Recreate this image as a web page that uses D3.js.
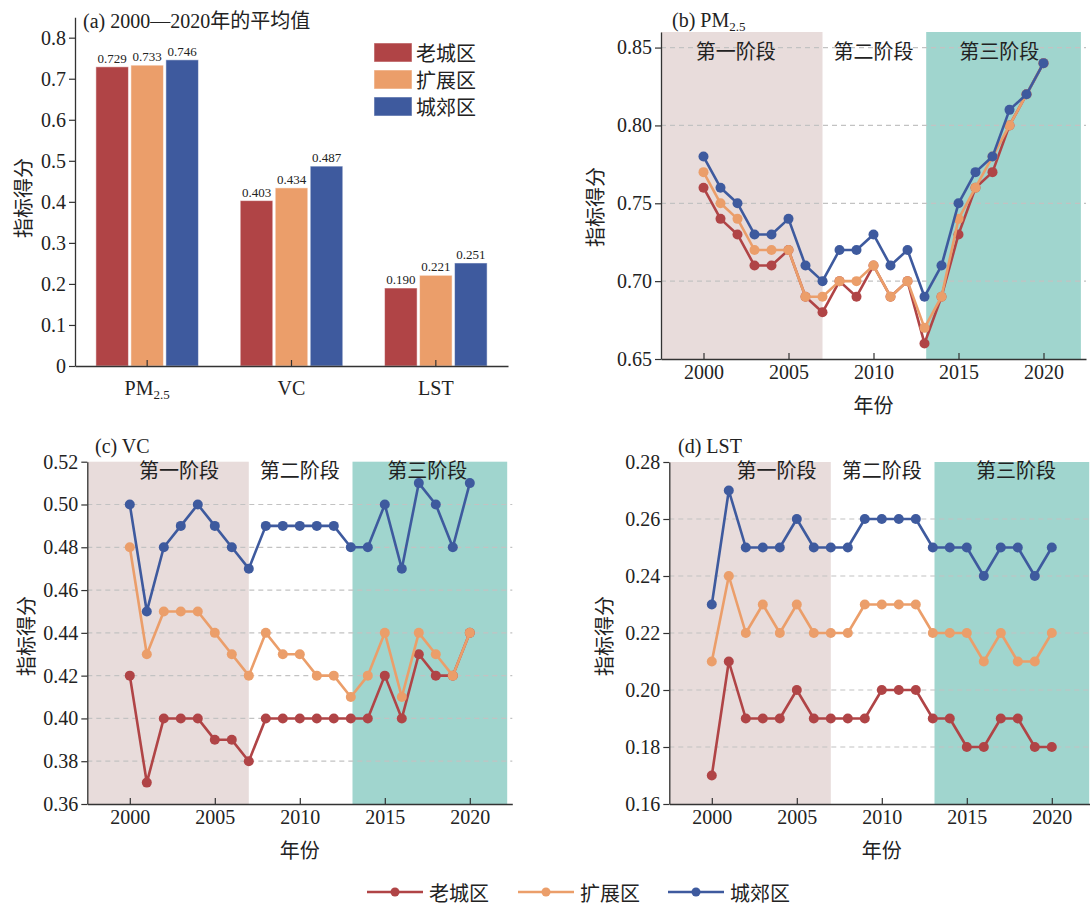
<!DOCTYPE html>
<html><head><meta charset="utf-8">
<script src="https://cdn.jsdelivr.net/npm/d3@7"></script>
<style>
body{margin:0;background:#fff;}
svg{display:block;font-family:"Liberation Serif","Noto Sans CJK SC",serif;}
text{fill:#222;}
</style></head>
<body><svg id="chart" width="1090" height="905"></svg>
<script>
// ---------- data ----------
const seriesNames = ["老城区", "扩展区", "城郊区"];
const seriesColors = ["#B04446", "#EB9E6A", "#3E5A9E"];
const barCategories = ["PM2.5", "VC", "LST"];
const barOld = [0.729, 0.403, 0.190];
const barExt = [0.733, 0.434, 0.221];
const barSub = [0.746, 0.487, 0.251];
const years = [2000,2001,2002,2003,2004,2005,2006,2007,2008,2009,2010,2011,2012,2013,2014,2015,2016,2017,2018,2019,2020];
const pmOld = [0.76,0.74,0.73,0.71,0.71,0.72,0.69,0.68,0.70,0.69,0.71,0.69,0.70,0.66,0.69,0.73,0.76,0.77,0.80,0.82,0.84];
const pmExt = [0.77,0.75,0.74,0.72,0.72,0.72,0.69,0.69,0.70,0.70,0.71,0.69,0.70,0.67,0.69,0.74,0.76,0.78,0.80,0.82,0.84];
const pmSub = [0.78,0.76,0.75,0.73,0.73,0.74,0.71,0.70,0.72,0.72,0.73,0.71,0.72,0.69,0.71,0.75,0.77,0.78,0.81,0.82,0.84];
const vcOld = [0.42,0.37,0.40,0.40,0.40,0.39,0.39,0.38,0.40,0.40,0.40,0.40,0.40,0.40,0.40,0.42,0.40,0.43,0.42,0.42,0.44];
const vcExt = [0.48,0.43,0.45,0.45,0.45,0.44,0.43,0.42,0.44,0.43,0.43,0.42,0.42,0.41,0.42,0.44,0.41,0.44,0.43,0.42,0.44];
const vcSub = [0.50,0.45,0.48,0.49,0.50,0.49,0.48,0.47,0.49,0.49,0.49,0.49,0.49,0.48,0.48,0.50,0.47,0.51,0.50,0.48,0.51];
const lstOld = [0.17,0.21,0.19,0.19,0.19,0.20,0.19,0.19,0.19,0.19,0.20,0.20,0.20,0.19,0.19,0.18,0.18,0.19,0.19,0.18,0.18];
const lstExt = [0.21,0.24,0.22,0.23,0.22,0.23,0.22,0.22,0.22,0.23,0.23,0.23,0.23,0.22,0.22,0.22,0.21,0.22,0.21,0.21,0.22];
const lstSub = [0.23,0.27,0.25,0.25,0.25,0.26,0.25,0.25,0.25,0.26,0.26,0.26,0.26,0.25,0.25,0.25,0.24,0.25,0.25,0.24,0.25];
const stageNames = ["第一阶段", "第二阶段", "第三阶段"];
const yearTicks = [2000, 2005, 2010, 2015, 2020];
const barTicks = [0,0.1,0.2,0.3,0.4,0.5,0.6,0.7,0.8];
const pmTicks = [0.65,0.70,0.75,0.80,0.85];
const vcTicks = [0.36,0.38,0.40,0.42,0.44,0.46,0.48,0.50,0.52];
const lstTicks = [0.16,0.18,0.20,0.22,0.24,0.26,0.28];

const svg = d3.select("#chart");
const FS = 20;
const SERIF = '"Liberation Serif", "Noto Sans CJK SC", serif';
const CJK = '"Noto Sans CJK SC", sans-serif';

function styleAxis(g){
  g.attr("font-family", null).style("font-family", SERIF);
  g.selectAll("path.domain").attr("stroke","#333").attr("stroke-width",1.3);
  g.selectAll(".tick line").attr("stroke","#333").attr("stroke-width",1.2);
  g.selectAll(".tick text").attr("font-size",FS).style("fill","#222")
   .style("font-family", SERIF);
}
function yLabel(x, y){
  svg.append("text").attr("transform",`translate(${x},${y}) rotate(-90)`)
    .attr("text-anchor","middle").attr("dominant-baseline","central")
    .attr("font-size",FS).style("font-family",CJK).text("指标得分");
}
function titleWithSub(x, y, pre, sub){
  const t = svg.append("text").attr("x",x).attr("y",y).attr("font-size",FS).style("font-family",SERIF);
  t.append("tspan").text(pre);
  if(sub){ t.append("tspan").attr("font-size",13).attr("dy",4).text(sub); }
  return t;
}

// ---------- panel (a) bars ----------
(function(){
  const left=75, right=508, bottom=366;
  const y = d3.scaleLinear().domain([0,0.85]).range([bottom, bottom-0.85*410.4]);
  const x0 = d3.scaleBand().domain(barCategories).range([left,right]).padding(0);
  const x1 = d3.scaleBand().domain(seriesNames).range([-52.5,52.5]).paddingInner(0.07).paddingOuter(0.035);
  const vals = [barOld, barExt, barSub];
  const g = svg.append("g");
  barCategories.forEach((c,ci)=>{
    seriesNames.forEach((s,si)=>{
      const v = vals[si][ci];
      const bx = x0(c)+x0.bandwidth()/2 + x1(s);
      g.append("rect").attr("x",bx).attr("y",y(v)).attr("width",x1.bandwidth())
        .attr("height",y(0)-y(v)).attr("fill",seriesColors[si])
        .attr("stroke","#fff").attr("stroke-opacity",0.5).attr("stroke-width",1);
      g.append("text").attr("x",bx+x1.bandwidth()/2).attr("y",y(v)-4)
        .attr("text-anchor","middle").attr("font-size",13).style("font-family",SERIF)
        .text(d3.format(".3f")(v));
    });
  });
  const ya = svg.append("g").attr("transform",`translate(${left},0)`)
    .call(d3.axisLeft(y).tickValues(barTicks).tickSize(6).tickSizeOuter(0).tickPadding(3)
      .tickFormat(d=> d===0?"0":d3.format(".1f")(d)));
  styleAxis(ya);
  const xa = svg.append("g").attr("transform",`translate(0,${bottom})`)
    .call(d3.axisBottom(x0).tickSizeInner(-6).tickSizeOuter(0).tickPadding(12).tickFormat(()=>""));
  styleAxis(xa);
  xa.selectAll(".tick").each(function(d){
    const t = d3.select(this).select("text").attr("dy",null).attr("y",29);
    if(d==="PM2.5"){ t.append("tspan").text("PM"); t.append("tspan").attr("font-size",13).attr("dy",4).text("2.5"); }
    else t.text(d);
  });
  // legend
  seriesNames.forEach((s,i)=>{
    const ly = 43 + i*27;
    svg.append("rect").attr("x",374).attr("y",ly).attr("width",38).attr("height",19)
      .attr("fill",seriesColors[i]).attr("stroke","#fff").attr("stroke-opacity",0.5);
    svg.append("text").attr("x",416).attr("y",ly+9.5).attr("dominant-baseline","central")
      .attr("font-size",20).style("font-family",CJK).text(s);
  });
  const t = svg.append("text").attr("x",83).attr("y",28).attr("font-size",FS).style("font-family",SERIF);
  t.append("tspan").text("(a) 2000—2020");
  t.append("tspan").style("font-family",CJK).text("年的平均值");
  yLabel(22, 198);
})();

// ---------- line panels ----------
function linePanel(cfg){
  const x = d3.scaleLinear().domain([1997.5,2022.5]).range([cfg.left, cfg.left+425]);
  const y = d3.scaleLinear().domain(cfg.yDomain).range([cfg.bottom, cfg.top]);
  const g = svg.append("g");
  g.append("rect").attr("x",x(1997.5)).attr("y",cfg.top).attr("width",x(2007)-x(1997.5))
    .attr("height",cfg.bottom-cfg.top).attr("fill","#E8DCDB");
  g.append("rect").attr("x",x(2013.1)).attr("y",cfg.top).attr("width",x(2022.2)-x(2013.1))
    .attr("height",cfg.bottom-cfg.top).attr("fill","#A0D5CE");
  cfg.ticks.slice(1).forEach(t=>{
    if(Math.abs(y(t)-cfg.top)<1) return;
    g.append("line").attr("x1",x(1997.5)).attr("x2",x(2022.5)).attr("y1",y(t)).attr("y2",y(t))
      .attr("stroke","#c2c2c2").attr("stroke-width",1.2).attr("stroke-dasharray","5,4");
  });
  const stageX = [cfg.stage1X, 2010, cfg.stage3X];
  stageNames.forEach((s,i)=>{
    g.append("text").attr("x",x(stageX[i])).attr("y",cfg.stageY).attr("text-anchor","middle")
      .attr("dominant-baseline","central").attr("font-size",FS)
      .style("font-family",CJK).text(s);
  });
  const line = d3.line().x((d,i)=>x(years[i])).y(d=>y(d));
  cfg.data.forEach((arr,si)=>{
    g.append("path").attr("d",line(arr)).attr("fill","none").attr("stroke",seriesColors[si])
      .attr("stroke-width",2.6).attr("stroke-linejoin","round");
    g.selectAll(null).data(arr).enter().append("circle")
      .attr("cx",(d,i)=>x(years[i])).attr("cy",d=>y(d)).attr("r",5).attr("fill",seriesColors[si]);
  });
  const ya = svg.append("g").attr("transform",`translate(${cfg.left},0)`)
    .call(d3.axisLeft(y).tickValues(cfg.ticks).tickSize(6).tickSizeOuter(0).tickPadding(3)
      .tickFormat(d3.format(".2f")));
  styleAxis(ya);
  const xa = svg.append("g").attr("transform",`translate(0,${cfg.bottom})`)
    .call(d3.axisBottom(x).tickValues(yearTicks).tickSizeInner(-6).tickSizeOuter(0).tickPadding(6)
      .tickFormat(d3.format("d")));
  styleAxis(xa);
  svg.append("text").attr("x",x(2010)).attr("y",cfg.bottom+45).attr("text-anchor","middle")
    .attr("dominant-baseline","central").attr("font-size",FS)
    .style("font-family",CJK).text("年份");
  titleWithSub(cfg.titleX, cfg.titleY, cfg.title, cfg.titleSub);
  yLabel(cfg.ylabX, cfg.ylabY);
}

linePanel({left:661, top:32, bottom:359, yDomain:[0.65,0.86], ticks:pmTicks,
  data:[pmOld,pmExt,pmSub], stage1X:2001.9, stage3X:2017.4, stageY:50,
  title:"(b) PM", titleSub:"2.5", titleX:672, titleY:27, ylabX:594, ylabY:207});
linePanel({left:87.3, top:461.7, bottom:804, yDomain:[0.36,0.52], ticks:vcTicks,
  data:[vcOld,vcExt,vcSub], stage1X:2002.9, stage3X:2017.5, stageY:469,
  title:"(c) VC", titleSub:null, titleX:95, titleY:453, ylabX:25, ylabY:636});
linePanel({left:669.3, top:462, bottom:804, yDomain:[0.16,0.28], ticks:lstTicks,
  data:[lstOld,lstExt,lstSub], stage1X:2003.8, stage3X:2017.9, stageY:469,
  title:"(d) LST", titleSub:null, titleX:678, titleY:453, ylabX:603, ylabY:636});

// ---------- bottom legend ----------
const legX = [367, 518, 668];
seriesNames.forEach((s,i)=>{
  const lx = legX[i], ly = 892;
  svg.append("line").attr("x1",lx).attr("x2",lx+56).attr("y1",ly).attr("y2",ly)
    .attr("stroke",seriesColors[i]).attr("stroke-width",2.6);
  svg.append("circle").attr("cx",lx+28).attr("cy",ly).attr("r",4.5).attr("fill",seriesColors[i]);
  svg.append("text").attr("x",lx+62).attr("y",ly).attr("dominant-baseline","central")
    .attr("font-size",FS).style("font-family",CJK).text(s);
});
</script></body></html>
